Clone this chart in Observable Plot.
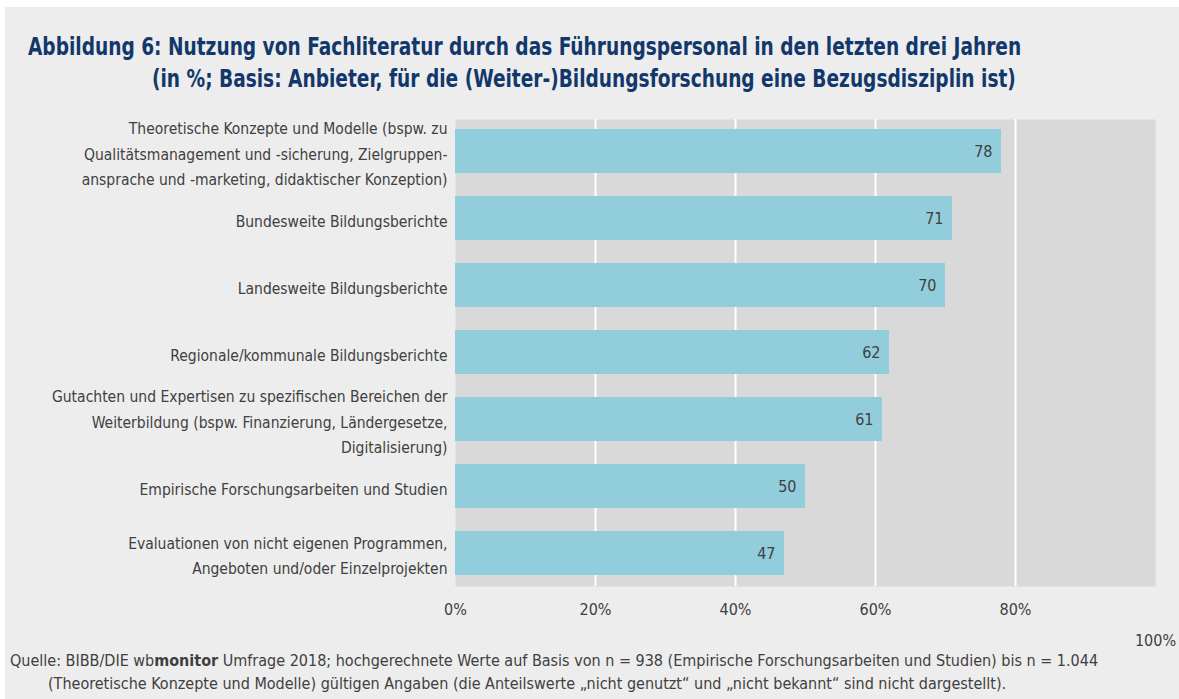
<!DOCTYPE html>
<html>
<head>
<meta charset="utf-8">
<script src="https://cdn.jsdelivr.net/npm/d3@7"></script>
<script src="https://cdn.jsdelivr.net/npm/@observablehq/plot@0.6"></script>
<style>
  html, body { margin: 0; padding: 0; background: #ffffff; width: 1179px; height: 699px; overflow: hidden; }
  body { position: relative; font-family: "Liberation Sans Narrow", "DejaVu Sans Condensed", "Roboto", sans-serif; }
  #panel { position: absolute; left: 5px; top: 7px; width: 1174px; height: 692px; background: #ededed; }
  .title { position: absolute; color: #12386b; font-size: 24px; font-weight: bold; line-height: 32px; white-space: nowrap; transform-origin: 0 50%; transform: scaleX(0.86); }
  #t1 { left: 28px; top: 31px; }
  #t2 { left: 152px; top: 63px; }
  #chart { position: absolute; left: 0; top: 100px; }
  #caption { position: absolute; left: 10px; top: 649px; color: #404040; font-size: 16px; line-height: 23px; white-space: nowrap; }
  #caption .l2 { padding-left: 38px; }
</style>
</head>
<body>
<div id="panel"></div>
<div class="title" id="t1">Abbildung 6: Nutzung von Fachliteratur durch das Führungspersonal in den letzten drei Jahren</div>
<div class="title" id="t2">(in %; Basis: Anbieter, für die (Weiter-)Bildungsforschung eine Bezugsdisziplin ist)</div>
<div id="chart"></div>
<div id="caption">
  <div>Quelle: BIBB/DIE wb<b>monitor</b> Umfrage 2018; hochgerechnete Werte auf Basis von n = 938 (Empirische Forschungsarbeiten und Studien) bis n = 1.044</div>
  <div class="l2">(Theoretische Konzepte und Modelle) gültigen Angaben (die Anteilswerte „nicht genutzt“ und „nicht bekannt“ sind nicht dargestellt).</div>
</div>
<script>
const categories = [
  "Theoretische Konzepte und Modelle (bspw. zu\nQualitätsmanagement und -sicherung, Zielgruppen-\nansprache und -marketing, didaktischer Konzeption)",
  "Bundesweite Bildungsberichte",
  "Landesweite Bildungsberichte",
  "Regionale/kommunale Bildungsberichte",
  "Gutachten und Expertisen zu spezifischen Bereichen der\nWeiterbildung (bspw. Finanzierung, Ländergesetze,\nDigitalisierung)",
  "Empirische Forschungsarbeiten und Studien",
  "Evaluationen von nicht eigenen Programmen,\nAngeboten und/oder Einzelprojekten"
];
const values = [78, 71, 70, 62, 61, 50, 47];
const xTicks = [0, 20, 40, 60, 80];
const gridTicks = [20, 40, 60, 80];
const lastTick = [100];

const data = categories.map((c, i) => ({label: c, value: values[i]}));
const font = '"Liberation Sans Narrow", "DejaVu Sans Condensed", "Roboto", sans-serif';

const plot = Plot.plot({
  width: 1179,
  height: 550,
  marginLeft: 455,
  marginRight: 24,
  marginTop: 19,
  marginBottom: 64,
  style: {background: "transparent", fontFamily: font, color: "#404040"},
  x: {domain: [0, 100]},
  y: {domain: categories, paddingInner: 0.34, paddingOuter: 0.12},
  marks: [
    Plot.frame({fill: "#d9d9d9", stroke: null}),
    Plot.gridX(gridTicks, {stroke: "#ffffff", strokeWidth: 2, strokeOpacity: 1}),
    Plot.barX(data, {x: "value", y: "label", fill: "#92cddc"}),
    Plot.text(data, {x: "value", y: "label", text: d => String(d.value), textAnchor: "end", dx: -9, fontSize: 16, fill: "#404040"}),
    Plot.axisY({tickSize: 0, tickPadding: 8, fontSize: 15.5, lineHeight: 1.65, label: null, fill: "#404040"}),
    Plot.axisX(xTicks, {tickSize: 0, tickPadding: 17, fontSize: 16, tickFormat: d => d + "%", label: null, fill: "#404040"}),
    Plot.text(lastTick, {x: d => d, frameAnchor: "bottom", dy: 59, text: d => d + "%", fontSize: 16, fill: "#404040"})
  ]
});
document.getElementById("chart").appendChild(plot);
</script>
</body>
</html>
